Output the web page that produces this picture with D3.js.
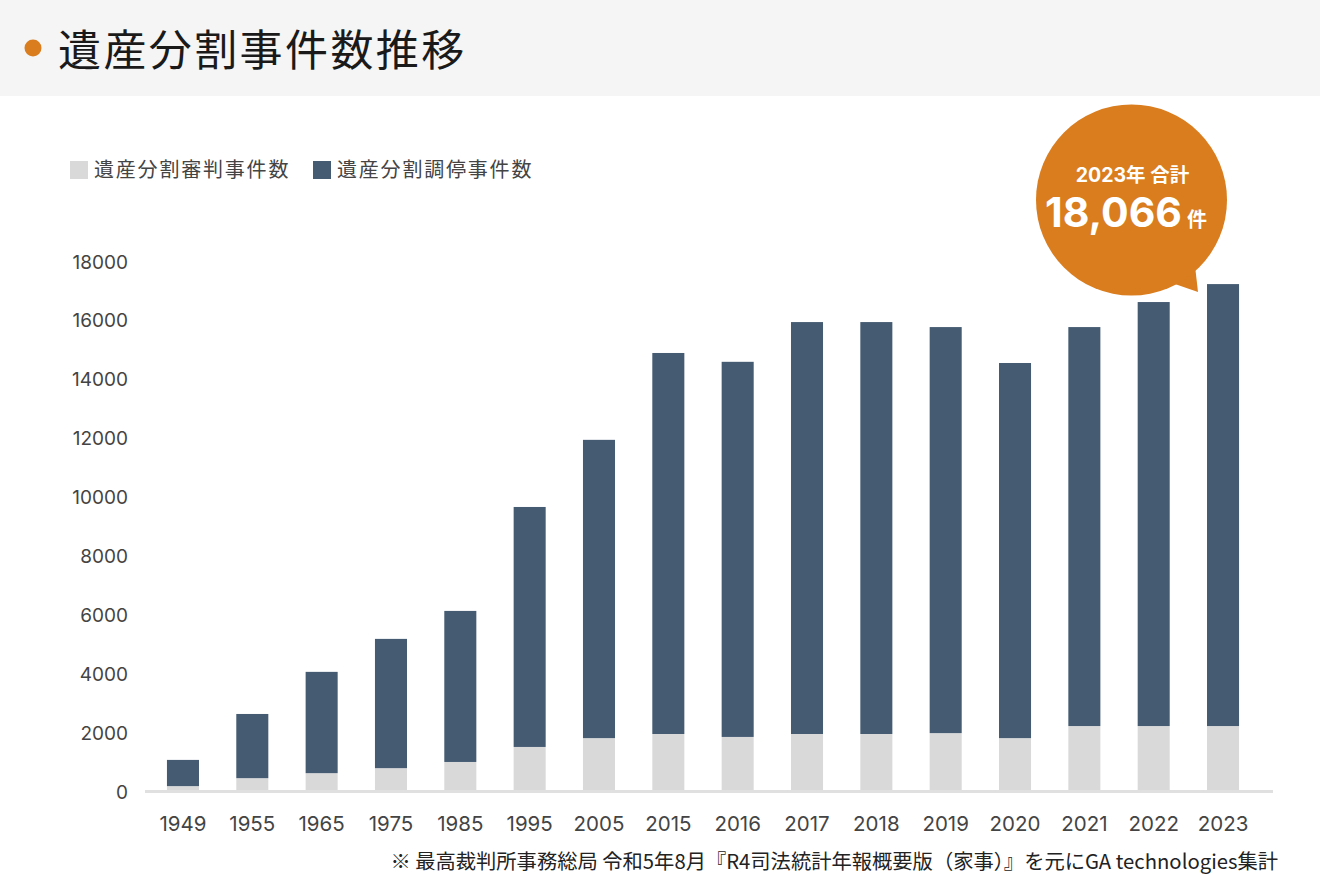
<!DOCTYPE html>
<html>
<head>
<meta charset="utf-8">
<script src="https://cdn.jsdelivr.net/npm/d3@7"></script>
<style>
  body { margin: 0; background: #fff; }
  svg { display: block; font-family: "Noto Sans CJK JP", "Noto Sans", sans-serif; }
</style>
</head>
<body>
<svg id="chart"></svg>
<script>
const width = 1320;
const height = 893;

const years = ["1949", "1955", "1965", "1975", "1985", "1995", "2005", "2015", "2016", "2017", "2018", "2019", "2020", "2021", "2022", "2023"];
// 遺産分割審判事件数 (bottom, light)
const shinpan = [200, 470, 640, 810, 1020, 1530, 1830, 1970, 1870, 1970, 1970, 2000, 1830, 2240, 2240, 2240];
// 遺産分割調停事件数 (top, dark)
const chotei = [890, 2180, 3440, 4390, 5130, 8150, 10130, 12940, 12740, 13990, 13990, 13790, 12740, 13550, 14400, 15010];
const yTicks = [0, 2000, 4000, 6000, 8000, 10000, 12000, 14000, 16000, 18000];
const seriesNames = ["遺産分割審判事件数", "遺産分割調停事件数"];
const colors = ["#d9d9d9", "#455b72"];

const title = "遺産分割事件数推移";
const note = "※ 最高裁判所事務総局 令和5年8月『R4司法統計年報概要版（家事）』を元にGA technologies集計";
const bubbleTop = "2023年 合計";
const bubbleNum = "18,066";

const svg = d3.select("#chart").attr("width", width).attr("height", height);

// header band
svg.append("rect").attr("x", 0).attr("y", 0).attr("width", width).attr("height", 96).attr("fill", "#f5f5f5");
svg.append("circle").attr("cx", 33).attr("cy", 48).attr("r", 8.5).attr("fill", "#d97d1e");
svg.append("text").attr("x", 58).attr("y", 66).attr("font-size", 43).attr("fill", "#1a1a1a")
    .attr("letter-spacing", 2.4).text(title);

// legend
const legendX = [70, 313];
seriesNames.forEach((name, i) => {
  svg.append("rect").attr("x", legendX[i]).attr("y", 161).attr("width", 18).attr("height", 18).attr("fill", colors[i]);
  svg.append("text").attr("x", legendX[i] + 24).attr("y", 177).attr("font-size", 20).attr("fill", "#444")
      .attr("letter-spacing", 1.8).text(name);
});

const x = d3.scaleBand()
    .domain(years)
    .range([148.3, 1257.7])
    .paddingInner(0.538)
    .paddingOuter(0.269);

const y = d3.scaleLinear()
    .domain([0, 18000])
    .range([792, 262]);

const data = years.map((yr, i) => ({ year: yr, shinpan: shinpan[i], chotei: chotei[i] }));
const stack = d3.stack().keys(["shinpan", "chotei"])(data);

svg.append("g").selectAll("g")
  .data(stack)
  .join("g")
    .attr("fill", (d, i) => colors[i])
  .selectAll("rect")
  .data(d => d)
  .join("rect")
    .attr("x", d => x(d.data.year))
    .attr("width", x.bandwidth())
    .attr("y", d => y(d[1]))
    .attr("height", d => y(d[0]) - y(d[1]));

// baseline
svg.append("line").attr("x1", 145).attr("x2", 1273).attr("y1", 791.5).attr("y2", 791.5)
    .attr("stroke", "#e0e0e0").attr("stroke-width", 3);

// y axis labels
const yAxis = d3.axisLeft(y).tickValues(yTicks).tickSize(0).tickPadding(0).tickFormat(d3.format("d"));
const gy = svg.append("g").attr("transform", "translate(128,0)").call(yAxis);
gy.select(".domain").remove();
gy.selectAll("text").attr("font-size", 19).attr("fill", "#444").attr("font-family", "Inter, 'Noto Sans'");

// x axis labels
const xAxis = d3.axisBottom(x).tickSize(0).tickPadding(0);
const gx = svg.append("g").attr("transform", "translate(0,816)").call(xAxis);
gx.select(".domain").remove();
gx.selectAll("text").attr("font-size", 20.5).attr("fill", "#444").attr("font-family", "Inter, 'Noto Sans'");

// footnote
svg.append("text").attr("x", 1278).attr("y", 869).attr("text-anchor", "end")
    .attr("font-size", 20.3).attr("fill", "#222").text(note);

// bubble
const bx = 1131.5, by = 200, br = 95.5;
const bubble = svg.append("g");
bubble.append("path")
    .attr("d", d3.line()([[1172, 283], [1198, 292], [1195, 266]]))
    .attr("fill", "#d97d1e");
bubble.append("circle").attr("cx", bx).attr("cy", by).attr("r", br).attr("fill", "#d97d1e");
bubble.append("text").attr("x", bx + 1).attr("y", 182).attr("text-anchor", "middle")
    .attr("font-size", 19.5).attr("font-weight", "bold").attr("fill", "#fff")
    .attr("font-family", "Inter, 'Noto Sans CJK JP'").text(bubbleTop);
const big = bubble.append("text").attr("x", 1045).attr("y", 227).attr("fill", "#fff").attr("font-weight", "bold");
big.append("tspan").attr("font-size", 41).attr("font-family", "Inter, 'Noto Sans'").text(bubbleNum);
big.append("tspan").attr("font-size", 20).attr("dx", 5).text("件");
</script>
</body>
</html>
